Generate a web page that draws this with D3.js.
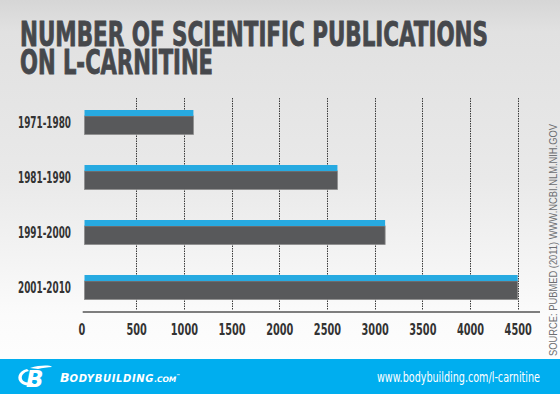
<!DOCTYPE html>
<html>
<head>
  <title>L-carnitine publications</title>
  <script src="https://d3js.org/d3.v7.min.js"></script>
  <style>
    body { margin: 0; background: #fff; }
    svg { display: block; }
  </style>
</head>
<body>
<script type="text/javascript">

// ****** DATA ******

  var decades = ["1971-1980", "1981-1990", "1991-2000", "2001-2010"];
  var publications = [1100, 2610, 3110, 4500];
  var tickValues = [0, 500, 1000, 1500, 2000, 2500, 3000, 3500, 4000, 4500];
  var titleLines = ["NUMBER OF SCIENTIFIC PUBLICATIONS", "ON L-CARNITINE"];
  var sourceText = "SOURCE: PUBMED (2011) WWW.NCBI.NLM.NIH.GOV";

  var width = 560,
      height = 394;

  var narrow = "'Liberation Sans Narrow', 'DejaVu Sans Condensed', 'Arial Narrow', sans-serif";

// ****** CREATE ELEMENTS ******

  var svg = d3.select("body")
    .append("svg")
    .attr("width", width)
    .attr("height", height);

  // soft grey paper background, lighter toward the bottom
  var defs = svg.append("defs");
  var grad = defs.append("linearGradient")
    .attr("id", "paper")
    .attr("x1", 0).attr("y1", 0).attr("x2", 0).attr("y2", 1);
  grad.append("stop").attr("offset", "0%").attr("stop-color", "#d6d6d6");
  grad.append("stop").attr("offset", "8%").attr("stop-color", "#e1e1e1");
  grad.append("stop").attr("offset", "45%").attr("stop-color", "#e9e9e9");
  grad.append("stop").attr("offset", "80%").attr("stop-color", "#fbfbfb");
  grad.append("stop").attr("offset", "100%").attr("stop-color", "#ffffff");

  svg.append("rect")
    .attr("width", width)
    .attr("height", height)
    .attr("fill", "url(#paper)");

  // title (condensed heavy type squeezed to the original widths)
  var titleLengths = [468, 193];
  svg.append("g")
    .selectAll("text")
    .data(titleLines)
    .enter()
    .append("text")
    .attr("x", 20)
    .attr("y", function (d, i) { return 46 + i * 27.5; })
    .attr("textLength", function (d, i) { return titleLengths[i]; })
    .attr("lengthAdjust", "spacingAndGlyphs")
    .style("font-family", narrow)
    .style("font-weight", "bold")
    .style("font-size", "33px")
    .style("fill", "#46484c")
    .style("stroke", "#46484c")
    .style("stroke-width", 0.8)
    .text(function (d) { return d; });

  // scales
  var x = d3.scaleLinear()
    .domain([0, 4500])
    .range([88.5, 517.7]);

  var y = d3.scaleBand()
    .domain(decades)
    .range([110, 299.5])
    .paddingInner(0.5545)
    .paddingOuter(0);

  // dotted grid lines
  svg.append("g")
    .selectAll("line")
    .data(tickValues.slice(1))
    .enter()
    .append("line")
    .attr("x1", function (d) { return Math.round(x(d)) + 0.5; })
    .attr("x2", function (d) { return Math.round(x(d)) + 0.5; })
    .attr("y1", 98)
    .attr("y2", 310)
    .style("stroke", "#3a3a3a")
    .style("stroke-width", 1)
    .style("stroke-dasharray", "1.5,1");

  // bars: blue cap over a dark grey body
  var bars = svg.append("g")
    .selectAll("g")
    .data(decades)
    .enter()
    .append("g");

  var barStart = x(0) - 4;

  bars.append("rect")
    .attr("x", barStart)
    .attr("y", function (d) { return y(d) + 6; })
    .attr("width", function (d, i) { return x(publications[i]) - barStart; })
    .attr("height", y.bandwidth() - 6)
    .style("fill", "#58595b")
    .style("stroke", "#8c8c8c")
    .style("stroke-width", 0.8);

  bars.append("rect")
    .attr("x", barStart)
    .attr("y", function (d) { return y(d); })
    .attr("width", function (d, i) { return x(publications[i]) - barStart; })
    .attr("height", 6)
    .style("fill", "#27aae1");

  // category labels
  bars.append("text")
    .attr("x", 71)
    .attr("y", function (d) { return y(d) + y.bandwidth() / 2 + 5.5; })
    .attr("text-anchor", "end")
    .attr("textLength", 53)
    .attr("lengthAdjust", "spacingAndGlyphs")
    .style("font-family", narrow)
    .style("font-weight", "bold")
    .style("font-size", "16px")
    .style("fill", "#333")
    .text(function (d) { return d; });

  // x axis
  var axis = svg.append("g")
    .attr("transform", "translate(0,312)")
    .call(d3.axisBottom(x)
      .tickValues(tickValues)
      .tickFormat(d3.format("d"))
      .tickSize(0)
      .tickPadding(12));

  axis.select(".domain").remove();
  axis.append("line")
    .attr("x1", 82.7)
    .attr("x2", 540)
    .style("stroke", "#555")
    .style("stroke-width", 1.6);

  axis.selectAll(".tick text")
    .attr("dx", function (d) { return d === 0 ? -7 : 0; })
    .attr("textLength", function (d) { return String(d).length * 6.8; })
    .attr("lengthAdjust", "spacingAndGlyphs")
    .style("font-family", narrow)
    .style("font-weight", "bold")
    .style("font-size", "16px")
    .style("fill", "#333");

  // rotated source note
  svg.append("text")
    .attr("transform", "translate(557,356) rotate(-90)")
    .attr("textLength", 232)
    .attr("lengthAdjust", "spacingAndGlyphs")
    .style("font-family", "'Liberation Sans', Arial, sans-serif")
    .style("font-size", "10px")
    .style("fill", "#6d6e71")
    .text(sourceText);

  // footer band
  var footer = svg.append("g")
    .attr("transform", "translate(0,359)");

  footer.append("rect")
    .attr("width", width)
    .attr("height", 35)
    .style("fill", "#00aeef");

  // logo mark: swoosh around a slanted B
  footer.append("path")
    .attr("d", "M27,10 C18,12 16,20 21,24 C24,27 30,27 34,25 L31,23 C27,24 23,23 22,20 C21,16 24,13 29,12 Z")
    .style("fill", "#fff");
  footer.append("path")
    .attr("d", "M30,9 C40,6 50,6 52,8 C48,8 42,9 38,10 Z")
    .style("fill", "#fff");
  footer.append("text")
    .attr("x", 26)
    .attr("y", 28)
    .style("font-family", "'DejaVu Sans', sans-serif")
    .style("font-weight", "bold")
    .style("font-style", "italic")
    .style("font-size", "23px")
    .style("fill", "#fff")
    .text("B");

  var brand = footer.append("text")
    .attr("x", 60)
    .attr("y", 23)
    .style("font-family", "'DejaVu Sans', sans-serif")
    .style("font-weight", "bold")
    .style("font-style", "italic")
    .style("fill", "#fff");
  brand.append("tspan").style("font-size", "12.5px").text("B");
  brand.append("tspan").style("font-size", "10px").attr("textLength", 84).text("ODYBUILDING");
  brand.append("tspan").style("font-size", "7.5px").text(".COM");
  brand.append("tspan").style("font-size", "4px").attr("dy", -5).text("™");

  footer.append("text")
    .attr("x", 540)
    .attr("y", 23)
    .attr("text-anchor", "end")
    .attr("textLength", 163)
    .attr("lengthAdjust", "spacingAndGlyphs")
    .style("font-family", narrow)
    .style("font-size", "14px")
    .style("fill", "#fff")
    .text("www.bodybuilding.com/l-carnitine");

</script>
</body>
</html>
